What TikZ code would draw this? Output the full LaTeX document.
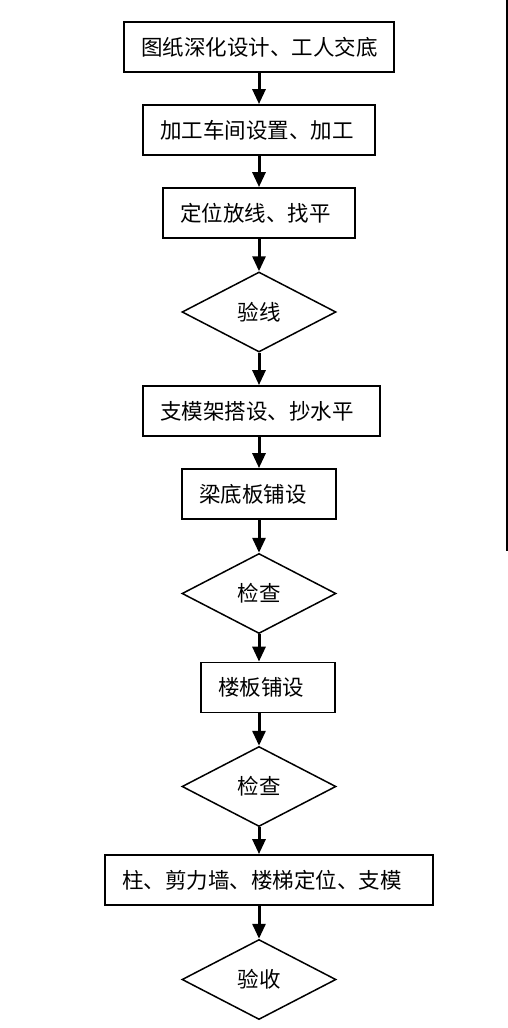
\documentclass[tikz,border=0pt]{standalone}
\usepackage{fontspec}
\setmainfont{Noto Sans CJK SC}
\usetikzlibrary{shapes.geometric,arrows.meta}
\tikzset{
  boxnode/.style={draw=black, line width=1.8pt, minimum height=50pt, inner xsep=17pt, inner ysep=0pt, align=left, font=\fontsize{21.5}{21.5}\selectfont},
  decnode/.style={draw=black, line width=1.5pt, diamond, aspect=1.925, minimum width=154pt, minimum height=80pt, inner sep=0pt, font=\fontsize{21.5}{21.5}\selectfont},
  flow/.style={line width=3pt, -{Triangle[width=13pt,length=15pt]}},
}
\begin{document}
\begin{tikzpicture}[x=1pt,y=-1pt]
\useasboundingbox (0,0) rectangle (508,1028);
\fill[white] (0,0) rectangle (508,1028);
\node[boxnode, text width=236pt] (b1) at (259,47) {图纸深化设计、工人交底};
\node[boxnode, text width=198pt] (b2) at (259,130) {加工车间设置、加工};
\node[boxnode, text width=158pt] (b3) at (259,213) {定位放线、找平};
\node[decnode] (d1) at (259,312) {验线};
\node[boxnode, text width=203pt] (b4) at (261.5,411) {支模架搭设、抄水平};
\node[boxnode, text width=120pt] (b5) at (259,494) {梁底板铺设};
\node[decnode] (d2) at (259,593.5) {检查};
\node[boxnode, text width=100pt] (b6) at (268,687.5) {楼板铺设};
\node[decnode] (d3) at (259,786.5) {检查};
\node[boxnode, text width=294pt] (b7) at (269,880) {柱、剪力墙、楼梯定位、支模};
\node[decnode] (d4) at (259,979.5) {验收};
\coordinate (rt) at (507,0);
\coordinate (rb) at (507,551);
\draw[line width=1.5pt] (rt) -- (rb);
\draw[flow] (b1.south) -- (b2.north);
\draw[flow] (b2.south) -- (b3.north);
\draw[flow] (b3.south) -- (d1.north);
\draw[flow] (d1.south) -- (d1.south |- b4.north);
\draw[flow] (d1.south |- b4.south) -- (b5.north);
\draw[flow] (b5.south) -- (d2.north);
\draw[flow] (d2.south) -- (d2.south |- b6.north);
\draw[flow] (d2.south |- b6.south) -- (d3.north);
\draw[flow] (d3.south) -- (d3.south |- b7.north);
\draw[flow] (d3.south |- b7.south) -- (d4.north);
\end{tikzpicture}
\end{document}
